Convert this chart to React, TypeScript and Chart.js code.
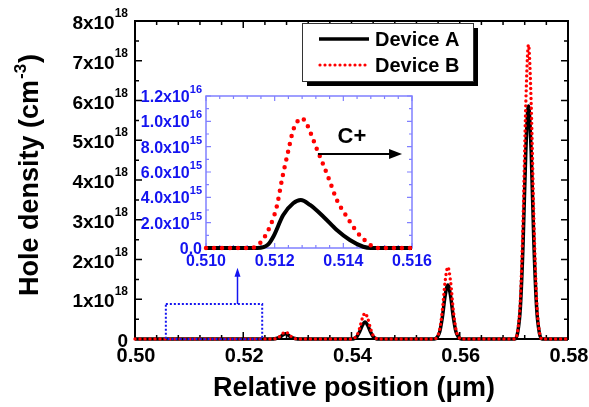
import React, { useEffect, useRef } from "react";
import { Chart, registerables } from "chart.js";

Chart.register(...registerables);

const FONT = '"Liberation Sans", Arial, Helvetica, sans-serif';
const bold = (s: number) => `bold ${s}px ${FONT}`;

// ---------- main chart data (relative position in µm, hole density in cm^-3) ----------
const positionUm = [
  0.5,
  0.5253, 0.5258, 0.5263, 0.5268, 0.5273, 0.5278, 0.5283, 0.5288, 0.5293, 0.5298, 0.5303,
  0.54, 0.5405, 0.541, 0.5415, 0.542, 0.5425, 0.543, 0.5435, 0.544, 0.5445, 0.545,
  0.5553, 0.5558, 0.5563, 0.5568, 0.5573, 0.5578, 0.5583, 0.5588, 0.5593, 0.5598, 0.5603,
  0.5702, 0.5707, 0.5712, 0.5717, 0.5722, 0.5727, 0.5732, 0.5737, 0.5742, 0.5747, 0.5752,
  0.58,
];
const deviceA = [
  0,
  0, 0.004e18, 0.02e18, 0.05e18, 0.1e18, 0.13e18, 0.1e18, 0.05e18, 0.02e18, 0.004e18, 0,
  0, 0.01e18, 0.06e18, 0.18e18, 0.34e18, 0.43e18, 0.34e18, 0.18e18, 0.06e18, 0.01e18, 0,
  0, 0.04e18, 0.18e18, 0.56e18, 1.09e18, 1.36e18, 1.09e18, 0.56e18, 0.18e18, 0.04e18, 0,
  0, 0.16e18, 0.79e18, 2.4e18, 4.7e18, 5.86e18, 4.7e18, 2.4e18, 0.79e18, 0.16e18, 0,
  0,
];
const deviceB = [
  0,
  0, 0.005e18, 0.025e18, 0.07e18, 0.14e18, 0.18e18, 0.14e18, 0.07e18, 0.025e18, 0.005e18, 0,
  0, 0.02e18, 0.09e18, 0.27e18, 0.52e18, 0.65e18, 0.52e18, 0.27e18, 0.09e18, 0.02e18, 0,
  0, 0.05e18, 0.24e18, 0.74e18, 1.45e18, 1.81e18, 1.45e18, 0.74e18, 0.24e18, 0.05e18, 0,
  0, 0.2e18, 1.0e18, 3.0e18, 5.9e18, 7.4e18, 5.9e18, 3.0e18, 1.0e18, 0.2e18, 0,
  0,
];

// ---------- inset data ----------
const insetPosA = [0.51, 0.5115, 0.5118, 0.51196, 0.51225, 0.51254, 0.51276, 0.51303, 0.51342, 0.51381, 0.51419, 0.51458, 0.5148, 0.516];
const insetA = [0, 0, 0.25e15, 0.89e15, 2.6e15, 3.53e15, 3.79e15, 3.4e15, 2.47e15, 1.42e15, 0.63e15, 0.1e15, 0, 0];
const insetPosB = [0.51, 0.5113, 0.51157, 0.51186, 0.51206, 0.51222, 0.51238, 0.51254, 0.51268, 0.51278, 0.51288, 0.51303, 0.51322, 0.51342, 0.51361, 0.51381, 0.5141, 0.51439, 0.51473, 0.51497, 0.516];
const insetB = [0, 0, 0.37e15, 1.68e15, 3.26e15, 5.5e15, 7.47e15, 9.3e15, 10.05e15, 10.25e15, 10.05e15, 9.2e15, 7.87e15, 6.55e15, 5.23e15, 3.79e15, 2.47e15, 1.29e15, 0.37e15, 0, 0];

// ---------- ticks ----------
const mainXTicks = [0.5, 0.52, 0.54, 0.56, 0.58];
const mainXTickLabels = ["0.50", "0.52", "0.54", "0.56", "0.58"];
const mainYTicks = [0, 1e18, 2e18, 3e18, 4e18, 5e18, 6e18, 7e18, 8e18];
const mainYTickBase = ["0", "1x10", "2x10", "3x10", "4x10", "5x10", "6x10", "7x10", "8x10"];
const mainYTickExp = ["", "18", "18", "18", "18", "18", "18", "18", "18"];

const insetXTicks = [0.51, 0.512, 0.514, 0.516];
const insetXTickLabels = ["0.510", "0.512", "0.514", "0.516"];
const insetYTicks = [0, 2e15, 4e15, 6e15, 8e15, 1e16, 1.2e16];
const insetYTickBase = ["0.0", "2.0x10", "4.0x10", "6.0x10", "8.0x10", "1.0x10", "1.2x10"];
const insetYTickExp = ["", "15", "15", "15", "15", "16", "16"];

const seriesNames = ["Device A", "Device B"];

// layout
const W = 589, H = 407;
const INSET_LEFT = 130, INSET_TOP = 80, INSET_W = 330, INSET_H = 195;
const BLUE = "#1414f0";
const INSET_FRAME = "#8080ff";

function drawTicks(ctx: CanvasRenderingContext2D, chart: any, xt: number[], yt: number[], xSub: number, ySub: number, major: number, minor: number, color: string, lw: number) {
  const a = chart.chartArea;
  const xs = chart.scales.x, ys = chart.scales.y;
  ctx.save();
  ctx.strokeStyle = color;
  ctx.lineWidth = lw;
  ctx.beginPath();
  const vx = (v: number, len: number) => {
    const p = xs.getPixelForValue(v);
    ctx.moveTo(p, a.bottom); ctx.lineTo(p, a.bottom - len);
    ctx.moveTo(p, a.top); ctx.lineTo(p, a.top + len);
  };
  const vy = (v: number, len: number) => {
    const p = ys.getPixelForValue(v);
    ctx.moveTo(a.left, p); ctx.lineTo(a.left + len, p);
    ctx.moveTo(a.right, p); ctx.lineTo(a.right - len, p);
  };
  for (let i = 0; i < xt.length; i++) {
    vx(xt[i], major);
    if (i < xt.length - 1) for (let k = 1; k < xSub; k++) vx(xt[i] + ((xt[i + 1] - xt[i]) * k) / xSub, minor);
  }
  for (let i = 0; i < yt.length; i++) {
    vy(yt[i], major);
    if (i < yt.length - 1) for (let k = 1; k < ySub; k++) vy(yt[i] + ((yt[i + 1] - yt[i]) * k) / ySub, minor);
  }
  ctx.stroke();
  ctx.restore();
}

function drawSupRight(ctx: CanvasRenderingContext2D, base: string, exp: string, right: number, baseY: number, size: number, supSize: number, rise: number, color: string) {
  ctx.save();
  ctx.fillStyle = color;
  ctx.textAlign = "left";
  ctx.textBaseline = "alphabetic";
  ctx.font = bold(size);
  const wb = ctx.measureText(base).width;
  ctx.font = bold(supSize);
  const we = exp ? ctx.measureText(exp).width : 0;
  const sx = right - wb - we;
  ctx.font = bold(size);
  ctx.fillText(base, sx, baseY);
  if (exp) {
    ctx.font = bold(supSize);
    ctx.fillText(exp, sx + wb, baseY - rise);
  }
  ctx.restore();
}

function drawArrowHead(ctx: CanvasRenderingContext2D, x: number, y: number, dx: number, dy: number, len: number, half: number) {
  const nx = -dy, ny = dx;
  ctx.beginPath();
  ctx.moveTo(x, y);
  ctx.lineTo(x - dx * len + nx * half, y - dy * len + ny * half);
  ctx.lineTo(x - dx * len - nx * half, y - dy * len - ny * half);
  ctx.closePath();
  ctx.fill();
}

const mainDecor = {
  id: "mainDecor",
  beforeDatasetsDraw(chart: any) {
    const ctx: CanvasRenderingContext2D = chart.ctx;
    const a = chart.chartArea;
    ctx.save();
    ctx.strokeStyle = "#000";
    ctx.lineWidth = 2;
    ctx.strokeRect(a.left, a.top, a.right - a.left, a.bottom - a.top);
    ctx.restore();
    drawTicks(ctx, chart, mainXTicks, mainYTicks, 5, 2, 7, 4, "#000", 1.5);
  },
  afterDraw(chart: any) {
    const ctx: CanvasRenderingContext2D = chart.ctx;
    const xs = chart.scales.x, ys = chart.scales.y;
    // y tick labels
    mainYTicks.forEach((v, i) => {
      const p = ys.getPixelForValue(v);
      drawSupRight(ctx, mainYTickBase[i], mainYTickExp[i], 128, p + 8, 19, 12, 12, "#000");
    });
    // x tick labels
    ctx.save();
    ctx.fillStyle = "#000";
    ctx.font = bold(20);
    ctx.textAlign = "center";
    ctx.textBaseline = "alphabetic";
    mainXTicks.forEach((v, i) => ctx.fillText(mainXTickLabels[i], xs.getPixelForValue(v) + 1, 362));
    // x title
    ctx.font = bold(27);
    ctx.fillText("Relative position (\u03bcm)", 354, 396);
    ctx.restore();

    // y title (rotated, with superscript)
    ctx.save();
    ctx.translate(38, 175);
    ctx.rotate(-Math.PI / 2);
    ctx.fillStyle = "#000";
    ctx.textAlign = "left";
    ctx.textBaseline = "alphabetic";
    const p1 = "Hole density (cm", p2 = "-3", p3 = ")";
    ctx.font = bold(27);
    const w1 = ctx.measureText(p1).width, w3 = ctx.measureText(p3).width;
    ctx.font = bold(17);
    const w2 = ctx.measureText(p2).width;
    let sx = -(w1 + w2 + w3 + 2) / 2;
    ctx.font = bold(27);
    ctx.fillText(p1, sx, 0);
    sx += w1 + 1;
    ctx.font = bold(17);
    ctx.fillText(p2, sx, -12);
    sx += w2 + 1;
    ctx.font = bold(27);
    ctx.fillText(p3, sx, 0);
    ctx.restore();

    // legend
    ctx.save();
    ctx.fillStyle = "#000";
    ctx.fillRect(307, 28, 171, 58);
    ctx.fillStyle = "#fff";
    ctx.fillRect(302, 23, 171, 58);
    ctx.strokeStyle = "#333";
    ctx.lineWidth = 1;
    ctx.strokeRect(302.5, 23.5, 171, 58);
    ctx.lineCap = "butt";
    ctx.strokeStyle = "#000";
    ctx.lineWidth = 3.5;
    ctx.beginPath();
    ctx.moveTo(319, 39); ctx.lineTo(369, 39);
    ctx.stroke();
    ctx.strokeStyle = "#ff0000";
    ctx.lineWidth = 3.2;
    ctx.lineCap = "round";
    ctx.setLineDash([0, 5]);
    ctx.beginPath();
    ctx.moveTo(320, 65); ctx.lineTo(369, 65);
    ctx.stroke();
    ctx.setLineDash([]);
    ctx.fillStyle = "#000";
    ctx.font = bold(20);
    ctx.textAlign = "left";
    ctx.fillText(seriesNames[0], 375, 46);
    ctx.fillText(seriesNames[1], 375, 72);
    ctx.restore();

    // zoom rectangle and arrow
    ctx.save();
    ctx.strokeStyle = BLUE;
    ctx.fillStyle = BLUE;
    ctx.lineWidth = 2;
    ctx.setLineDash([2, 2]);
    const rx0 = xs.getPixelForValue(0.5057), rx1 = xs.getPixelForValue(0.5235);
    const ry0 = ys.getPixelForValue(0.88e18), ry1 = ys.getPixelForValue(0);
    ctx.strokeRect(rx0, ry0, rx1 - rx0, ry1 - ry0);
    ctx.setLineDash([]);
    const ax = Math.round(xs.getPixelForValue(0.5188)) + 0.5;
    const ayTop = ys.getPixelForValue(1.79e18);
    ctx.lineWidth = 1.5;
    ctx.beginPath();
    ctx.moveTo(ax, ry0); ctx.lineTo(ax, ayTop + 6);
    ctx.stroke();
    drawArrowHead(ctx, ax, ayTop, 0, -1, 9, 3);
    ctx.restore();
  },
};

const insetDecor = {
  id: "insetDecor",
  beforeDatasetsDraw(chart: any) {
    const ctx: CanvasRenderingContext2D = chart.ctx;
    const a = chart.chartArea;
    ctx.save();
    ctx.fillStyle = "#fff";
    ctx.fillRect(a.left, a.top, a.right - a.left, a.bottom - a.top);
    ctx.strokeStyle = INSET_FRAME;
    ctx.lineWidth = 1.5;
    ctx.strokeRect(a.left, a.top, a.right - a.left, a.bottom - a.top);
    ctx.restore();
    drawTicks(ctx, chart, insetXTicks, insetYTicks, 5, 2, 5, 3, INSET_FRAME, 1.2);
  },
  afterDraw(chart: any) {
    const ctx: CanvasRenderingContext2D = chart.ctx;
    const xs = chart.scales.x, ys = chart.scales.y;
    const a = chart.chartArea;
    insetYTicks.forEach((v, i) => {
      const p = ys.getPixelForValue(v);
      drawSupRight(ctx, insetYTickBase[i], insetYTickExp[i], a.left - 4, p + 6, 16, 11, 9, BLUE);
    });
    ctx.save();
    ctx.fillStyle = BLUE;
    ctx.font = bold(16);
    ctx.textAlign = "center";
    ctx.textBaseline = "alphabetic";
    insetXTicks.forEach((v, i) => ctx.fillText(insetXTickLabels[i], xs.getPixelForValue(v), a.bottom + 18));
    // C+ annotation
    ctx.fillStyle = "#000";
    ctx.font = bold(22);
    ctx.fillText("C+", xs.getPixelForValue(0.51425), ys.getPixelForValue(8.29e15));
    const y = Math.round(ys.getPixelForValue(7.42e15));
    const x0 = xs.getPixelForValue(0.51326), x1 = xs.getPixelForValue(0.51571);
    ctx.strokeStyle = "#000";
    ctx.lineWidth = 2;
    ctx.beginPath();
    ctx.moveTo(x0, y); ctx.lineTo(x1 - 10, y);
    ctx.stroke();
    drawArrowHead(ctx, x1, y, 1, 0, 13, 5);
    ctx.restore();
  },
};

export default function App() {
  const mainRef = useRef<HTMLCanvasElement>(null);
  const insetRef = useRef<HTMLCanvasElement>(null);

  useEffect(() => {
    const main = new Chart(mainRef.current as HTMLCanvasElement, {
      type: "line",
      data: {
        datasets: [
          {
            label: seriesNames[1],
            data: positionUm.map((x, i) => ({ x, y: deviceB[i] })),
            borderColor: "#ff0000",
            borderWidth: 3.4,
            borderDash: [0, 5],
            borderCapStyle: "round",
            pointRadius: 0,
            cubicInterpolationMode: "monotone",
            clip: false,
            order: 1,
          } as any,
          {
            label: seriesNames[0],
            data: positionUm.map((x, i) => ({ x, y: deviceA[i] })),
            borderColor: "#000000",
            borderWidth: 3.5,
            pointRadius: 0,
            cubicInterpolationMode: "monotone",
            clip: false,
            order: 2,
          } as any,
        ],
      },
      options: {
        animation: false,
        responsive: false,
        maintainAspectRatio: false,
        events: [],
        layout: { padding: { left: 135, right: 21, top: 21, bottom: 68 } },
        scales: {
          x: { type: "linear", min: 0.5, max: 0.58, display: false },
          y: { type: "linear", min: 0, max: 8e18, display: false },
        },
        plugins: { legend: { display: false }, tooltip: { enabled: false } },
      },
      plugins: [mainDecor],
    });

    const inset = new Chart(insetRef.current as HTMLCanvasElement, {
      type: "line",
      data: {
        datasets: [
          {
            label: seriesNames[1],
            data: insetPosB.map((x, i) => ({ x, y: insetB[i] })),
            borderColor: "#ff0000",
            borderWidth: 4.5,
            borderDash: [0, 8],
            borderCapStyle: "round",
            pointRadius: 0,
            cubicInterpolationMode: "monotone",
            clip: false,
            order: 1,
          } as any,
          {
            label: seriesNames[0],
            data: insetPosA.map((x, i) => ({ x, y: insetA[i] })),
            borderColor: "#000000",
            borderWidth: 4,
            pointRadius: 0,
            cubicInterpolationMode: "monotone",
            clip: false,
            order: 2,
          } as any,
        ],
      },
      options: {
        animation: false,
        responsive: false,
        maintainAspectRatio: false,
        events: [],
        layout: {
          padding: {
            left: 206 - INSET_LEFT,
            top: 96 - INSET_TOP,
            right: INSET_LEFT + INSET_W - 412,
            bottom: INSET_TOP + INSET_H - 248,
          },
        },
        scales: {
          x: { type: "linear", min: 0.51, max: 0.516, display: false },
          y: { type: "linear", min: 0, max: 1.2e16, display: false },
        },
        plugins: { legend: { display: false }, tooltip: { enabled: false } },
      },
      plugins: [insetDecor],
    });

    return () => {
      main.destroy();
      inset.destroy();
    };
  }, []);

  return (
    <div style={{ position: "fixed", left: 0, top: 0, width: W, height: H, background: "#fff" }}>
      <canvas ref={mainRef} width={W} height={H} style={{ position: "absolute", left: 0, top: 0, width: W, height: H }} />
      <canvas
        ref={insetRef}
        width={INSET_W}
        height={INSET_H}
        style={{ position: "absolute", left: INSET_LEFT, top: INSET_TOP, width: INSET_W, height: INSET_H }}
      />
    </div>
  );
}
